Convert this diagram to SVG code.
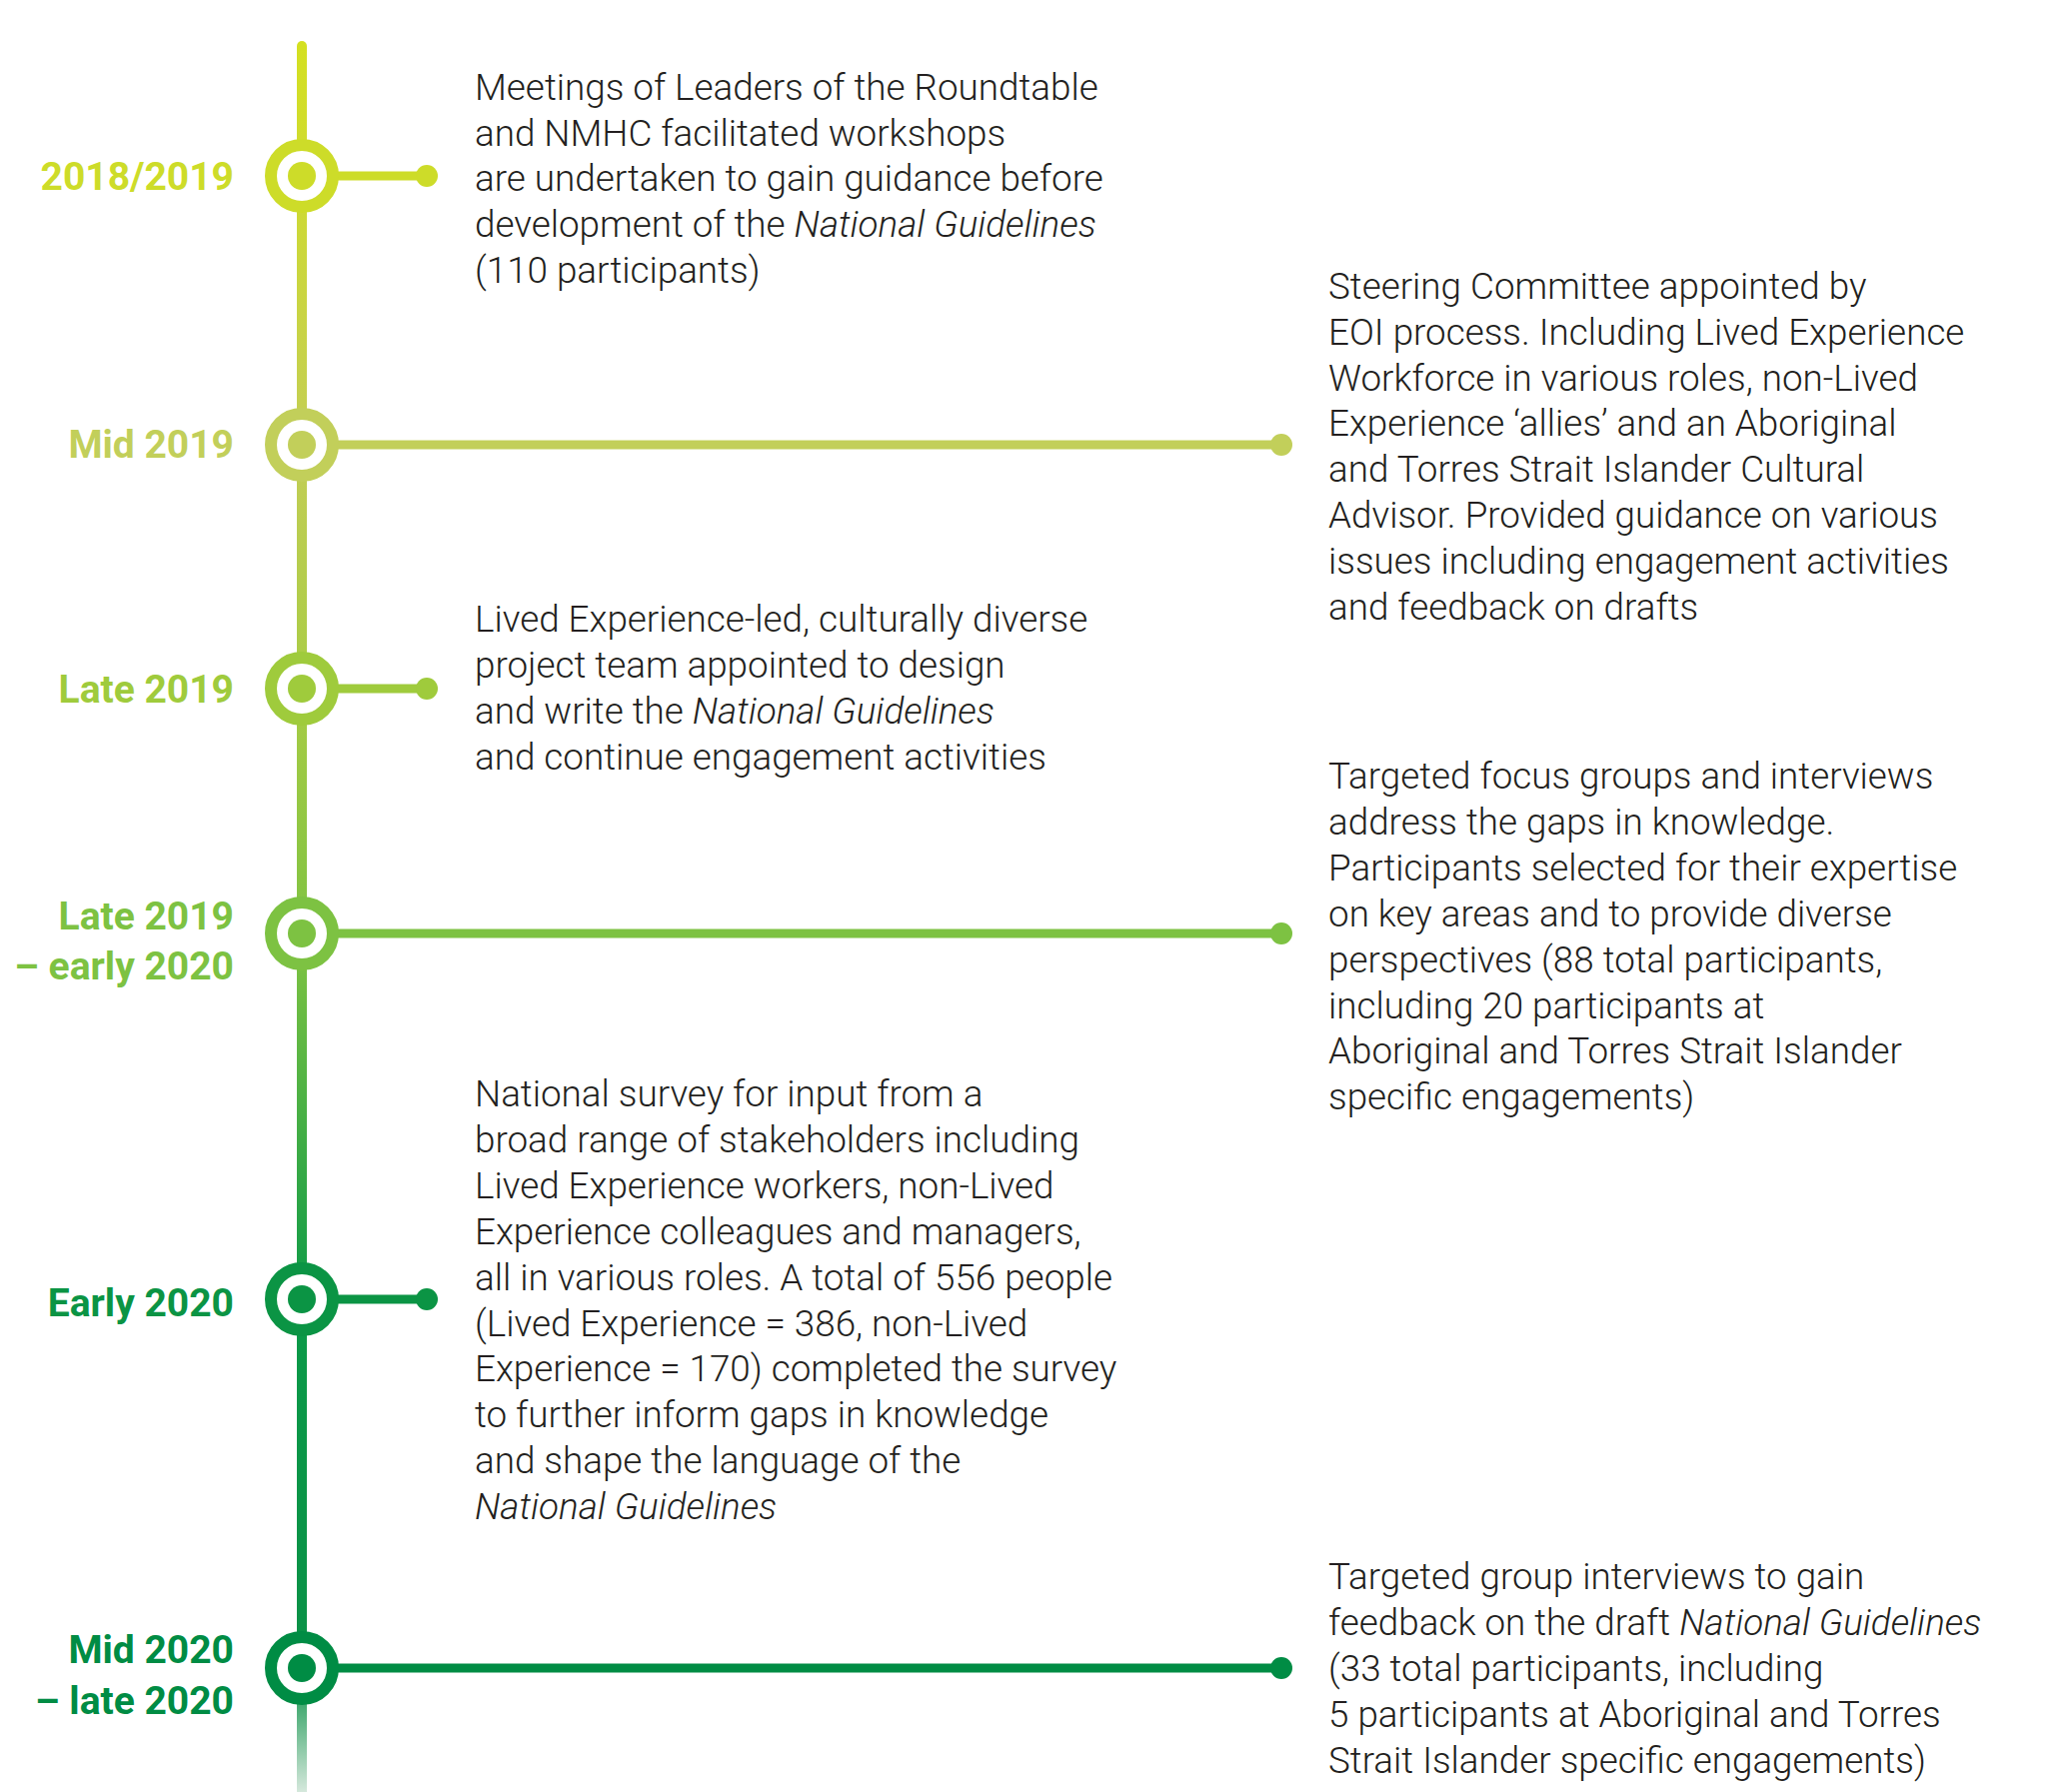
<svg xmlns="http://www.w3.org/2000/svg" width="2057" height="1793" viewBox="0 0 2057 1793">
<defs>
<linearGradient id="spine" gradientUnits="userSpaceOnUse" x1="0" y1="46" x2="0" y2="1793">
<stop offset="0" stop-color="#d4e021"/>
<stop offset="0.23" stop-color="#c3ce55"/>
<stop offset="0.37" stop-color="#a8cc45"/>
<stop offset="0.52" stop-color="#7cc242"/>
<stop offset="0.72" stop-color="#0b9a48"/>
<stop offset="0.93" stop-color="#0a9147"/>
<stop offset="1" stop-color="#d5e8dc"/>
</linearGradient>
<style>
.b{font-family:Roboto,"Liberation Sans",sans-serif;font-weight:300;font-size:36.8px;fill:#231f20}
.l{font-family:Roboto,"Liberation Sans",sans-serif;font-weight:700;font-size:39px;text-anchor:end}
.ring{fill:#fff;stroke-width:12}
</style>
</defs>
<g id="connectors">
<line x1="302" y1="46" x2="302" y2="1793" stroke="url(#spine)" stroke-width="10" stroke-linecap="round"/>
<g stroke-width="9">
<line x1="302" y1="176" x2="427" y2="176" stroke="#cddc29"/>
<line x1="302" y1="445" x2="1282" y2="445" stroke="#c2cf5a"/>
<line x1="302" y1="689" x2="427" y2="689" stroke="#9fcb3c"/>
<line x1="302" y1="934" x2="1282" y2="934" stroke="#7dc242"/>
<line x1="302" y1="1300" x2="427" y2="1300" stroke="#0b9444"/>
<line x1="302" y1="1669" x2="1282" y2="1669" stroke="#008c44"/>
</g>
<circle cx="427" cy="176" r="11" fill="#cddc29"/>
<circle cx="1282" cy="445" r="11" fill="#c2cf5a"/>
<circle cx="427" cy="689" r="11" fill="#9fcb3c"/>
<circle cx="1282" cy="934" r="11" fill="#7dc242"/>
<circle cx="427" cy="1300" r="11" fill="#0b9444"/>
<circle cx="1282" cy="1669" r="11" fill="#008c44"/>
</g>
<g id="n1"><circle class="ring" cx="302" cy="176" r="31" stroke="#cddc29"/><circle cx="302" cy="176" r="14" fill="#cddc29"/>
<text class="l" x="234" y="190" fill="#cddc29">2018/2019</text>
<text class="b" y="99.6"><tspan x="475">Meetings of Leaders of the Roundtable</tspan><tspan x="475" dy="45.9">and NMHC facilitated workshops</tspan><tspan x="475" dy="45.9">are undertaken to gain guidance before</tspan><tspan x="475" dy="45.9">development of the <tspan font-style="italic">National Guidelines</tspan></tspan><tspan x="475" dy="45.9">(110 participants)</tspan></text></g>
<g id="n2"><circle class="ring" cx="302" cy="445" r="31" stroke="#c2cf5a"/><circle cx="302" cy="445" r="14" fill="#c2cf5a"/>
<text class="l" x="234" y="458" fill="#c2cf5a">Mid 2019</text>
<text class="b" y="298.7"><tspan x="1329">Steering Committee appointed by</tspan><tspan x="1329" dy="45.9">EOI process. Including Lived Experience</tspan><tspan x="1329" dy="45.9">Workforce in various roles, non-Lived</tspan><tspan x="1329" dy="45.9">Experience ‘allies’ and an Aboriginal</tspan><tspan x="1329" dy="45.9">and Torres Strait Islander Cultural</tspan><tspan x="1329" dy="45.9">Advisor. Provided guidance on various</tspan><tspan x="1329" dy="45.9">issues including engagement activities</tspan><tspan x="1329" dy="45.9">and feedback on drafts</tspan></text></g>
<g id="n3"><circle class="ring" cx="302" cy="689" r="31" stroke="#9fcb3c"/><circle cx="302" cy="689" r="14" fill="#9fcb3c"/>
<text class="l" x="234" y="703" fill="#9fcb3c">Late 2019</text>
<text class="b" y="632"><tspan x="475">Lived Experience-led, culturally diverse</tspan><tspan x="475" dy="45.9">project team appointed to design</tspan><tspan x="475" dy="45.9">and write the <tspan font-style="italic">National Guidelines</tspan></tspan><tspan x="475" dy="45.9">and continue engagement activities</tspan></text></g>
<g id="n4"><circle class="ring" cx="302" cy="934" r="31" stroke="#7dc242"/><circle cx="302" cy="934" r="14" fill="#7dc242"/>
<text class="l" x="234" y="930" fill="#7dc242">Late 2019<tspan x="234" dy="50">– early 2020</tspan></text>
<text class="b" y="789"><tspan x="1329">Targeted focus groups and interviews</tspan><tspan x="1329" dy="45.9">address the gaps in knowledge.</tspan><tspan x="1329" dy="45.9">Participants selected for their expertise</tspan><tspan x="1329" dy="45.9">on key areas and to provide diverse</tspan><tspan x="1329" dy="45.9">perspectives (88 total participants,</tspan><tspan x="1329" dy="45.9">including 20 participants at</tspan><tspan x="1329" dy="45.9">Aboriginal and Torres Strait Islander</tspan><tspan x="1329" dy="45.9">specific engagements)</tspan></text></g>
<g id="n5"><circle class="ring" cx="302" cy="1300" r="31" stroke="#0b9444"/><circle cx="302" cy="1300" r="14" fill="#0b9444"/>
<text class="l" x="234" y="1317" fill="#0b9444">Early 2020</text>
<text class="b" y="1107"><tspan x="475">National survey for input from a</tspan><tspan x="475" dy="45.9">broad range of stakeholders including</tspan><tspan x="475" dy="45.9">Lived Experience workers, non-Lived</tspan><tspan x="475" dy="45.9">Experience colleagues and managers,</tspan><tspan x="475" dy="45.9">all in various roles. A total of 556 people</tspan><tspan x="475" dy="45.9">(Lived Experience = 386, non-Lived</tspan><tspan x="475" dy="45.9">Experience = 170) completed the survey</tspan><tspan x="475" dy="45.9">to further inform gaps in knowledge</tspan><tspan x="475" dy="45.9">and shape the language of the</tspan><tspan x="475" dy="45.9" font-style="italic">National Guidelines</tspan></text></g>
<g id="n6"><circle class="ring" cx="302" cy="1669" r="31" stroke="#008c44"/><circle cx="302" cy="1669" r="14" fill="#008c44"/>
<text class="l" x="234" y="1664" fill="#008c44">Mid 2020<tspan x="234" dy="51">– late 2020</tspan></text>
<text class="b" y="1590"><tspan x="1329">Targeted group interviews to gain</tspan><tspan x="1329" dy="45.9">feedback on the draft <tspan font-style="italic">National Guidelines</tspan></tspan><tspan x="1329" dy="45.9">(33 total participants, including</tspan><tspan x="1329" dy="45.9">5 participants at Aboriginal and Torres</tspan><tspan x="1329" dy="45.9">Strait Islander specific engagements)</tspan></text></g>
</svg>
